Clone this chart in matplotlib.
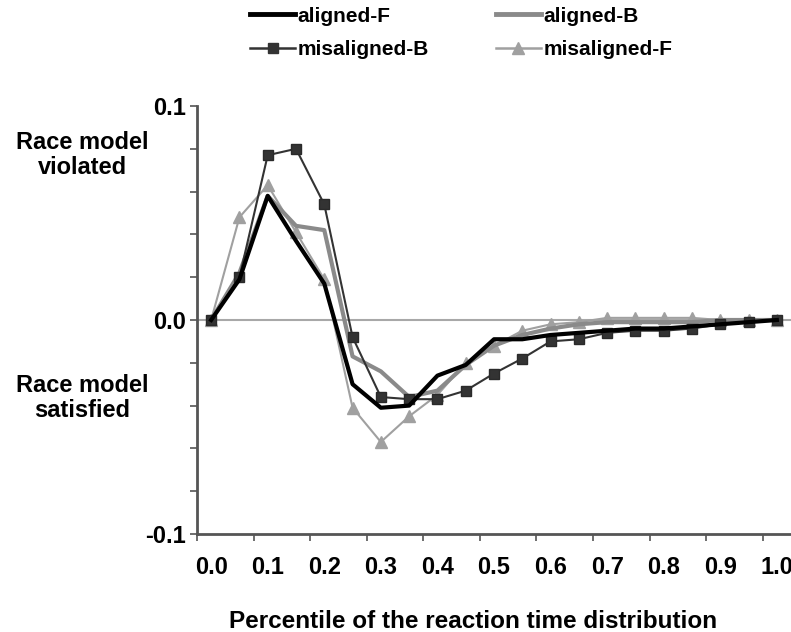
import matplotlib
matplotlib.use("Agg")
import matplotlib.pyplot as plt
from matplotlib.lines import Line2D
import numpy as np

plt.rcParams['font.family'] = ['Liberation Sans', 'DejaVu Sans']
plt.rcParams['font.weight'] = 'bold'

percentiles = [0.00, 0.05, 0.10, 0.15, 0.20, 0.25, 0.30, 0.35, 0.40, 0.45, 0.50,
               0.55, 0.60, 0.65, 0.70, 0.75, 0.80, 0.85, 0.90, 0.95, 1.00]

aligned_F = [0.000, 0.019, 0.058, 0.037, 0.017, -0.030, -0.041, -0.040, -0.026, -0.021, -0.009,
             -0.009, -0.007, -0.006, -0.005, -0.004, -0.004, -0.003, -0.002, -0.001, 0.000]
aligned_B = [0.000, 0.022, 0.058, 0.044, 0.042, -0.017, -0.024, -0.036, -0.033, -0.021, -0.012,
             -0.007, -0.004, -0.002, -0.001, -0.001, -0.001, -0.001, 0.000, 0.000, 0.000]
misaligned_B = [0.000, 0.020, 0.077, 0.080, 0.054, -0.008, -0.036, -0.037, -0.037, -0.033, -0.025,
                -0.018, -0.010, -0.009, -0.006, -0.005, -0.005, -0.004, -0.002, -0.001, 0.000]
misaligned_F = [0.000, 0.048, 0.063, 0.041, 0.019, -0.041, -0.057, -0.045, -0.035, -0.020, -0.012,
                -0.005, -0.002, -0.001, 0.001, 0.001, 0.001, 0.001, 0.000, 0.000, 0.000]

xtick_labels = ['0.0', '0.1', '0.2', '0.3', '0.4', '0.5', '0.6', '0.7', '0.8', '0.9', '1.0']
ytick_values = [-0.1, 0.0, 0.1]
ytick_labels = ['-0.1', '0.0', '0.1']
ytick_minor = [-0.08, -0.06, -0.04, -0.02, 0.02, 0.04, 0.06, 0.08]

W, H = 791, 632
fig = plt.figure(figsize=(W / 100, H / 100), dpi=100)
ax = fig.add_axes([197 / W, 1 - 534 / H, (791 - 197) / W, (534 - 106) / H])

ax.axhline(0, color='#a8a8a8', lw=1.5, zorder=1)

ax.plot(percentiles, misaligned_F, color='#a0a0a0', lw=1.5, marker='^', ms=8.5,
        markeredgecolor='#a0a0a0', markerfacecolor='#a0a0a0', zorder=3)
ax.plot(percentiles, aligned_B, color='#8a8a8a', lw=3, zorder=4)
ax.plot(percentiles, misaligned_B, color='#333333', lw=1.5, marker='s', ms=7.5,
        markeredgecolor='#2a2a2a', markerfacecolor='#333333', zorder=5)
ax.plot(percentiles, aligned_F, color='#000000', lw=3, zorder=6)

ax.set_xlim(-0.025, 1.025)
ax.set_ylim(-0.1, 0.1)

ax.set_xticks(np.arange(11) * 0.1)
ax.set_xticklabels(xtick_labels)
ax.set_xticks(np.arange(11) * 0.1 - 0.025, minor=True)
ax.tick_params(axis='x', which='major', length=0, pad=16, labelsize=17)
ax.tick_params(axis='x', which='minor', length=5, width=1.2, color='#555555', direction='out')

ax.set_yticks(ytick_values)
ax.set_yticklabels(ytick_labels)
ax.set_yticks(ytick_minor, minor=True)
ax.tick_params(axis='y', which='both', length=5, width=1.2, color='#555555', direction='out',
               labelsize=17, pad=3)

for s in ['top', 'right']:
    ax.spines[s].set_visible(False)
for s in ['left', 'bottom']:
    ax.spines[s].set_color('#555555')
    ax.spines[s].set_linewidth(2)

fig.text(82 / W, 1 - 155 / H, 'Race model\nviolated', ha='center', va='center',
         fontsize=17, fontweight='bold', linespacing=1.15)
fig.text(82 / W, 1 - 398 / H, 'Race model\nsatisfied', ha='center', va='center',
         fontsize=17, fontweight='bold', linespacing=1.15)
fig.text(473 / W, 1 - 621 / H, 'Percentile of the reaction time distribution',
         ha='center', va='center', fontsize=17.5, fontweight='bold')

handles = [
    Line2D([], [], color='#000000', lw=3.5),
    Line2D([], [], color='#333333', lw=1.8, marker='s', ms=7.5),
    Line2D([], [], color='#8a8a8a', lw=3.5),
    Line2D([], [], color='#a0a0a0', lw=1.8, marker='^', ms=8.5),
]
labels = ['aligned-F', 'misaligned-B', 'aligned-B', 'misaligned-F']
fig.legend(handles, labels, ncol=2, loc='upper left', bbox_to_anchor=(235 / W, 1 + 8 / H),
           frameon=False, handlelength=2.2, handletextpad=0.1, borderpad=0.2,
           columnspacing=3.2, labelspacing=0.7, prop={'weight': 'bold', 'size': 15})

fig.savefig('out.png', dpi=100)
